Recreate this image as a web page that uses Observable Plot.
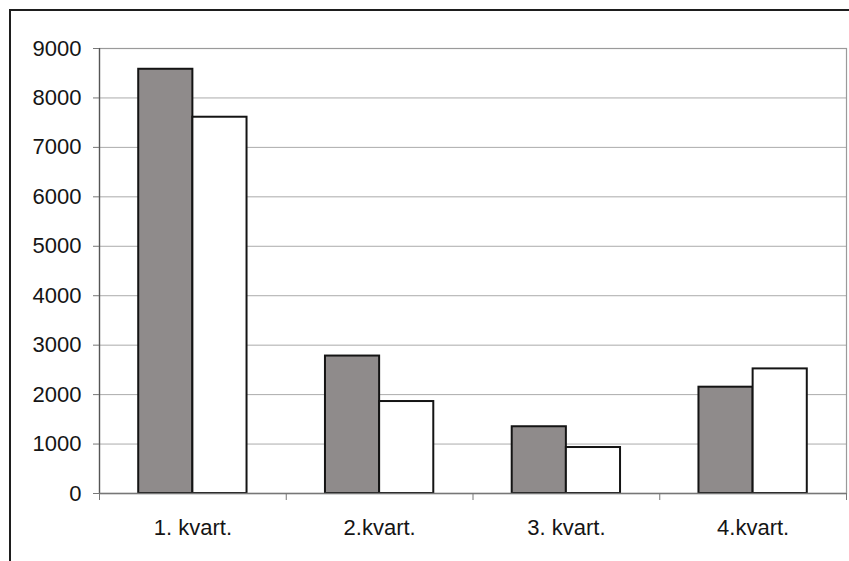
<!DOCTYPE html>
<html>
<head>
<meta charset="utf-8">
<script src="https://cdn.jsdelivr.net/npm/d3@7"></script>
<script src="https://cdn.jsdelivr.net/npm/@observablehq/plot@0.6"></script>
<style>
  html, body { margin: 0; padding: 0; background: #fff; }
  #wrap { position: relative; width: 849px; height: 561px; overflow: hidden; }
  #border {
    position: absolute; left: 9px; top: 9px; width: 900px; height: 600px;
    border-top: 2px solid #1e1e1e; border-left: 2px solid #1e1e1e;
    pointer-events: none;
  }
</style>
</head>
<body>
<div id="wrap"><div id="border"></div></div>
<script>
// Quarterly values, two series per quarter
const categories = ["1. kvart.", "2.kvart.", "3. kvart.", "4.kvart."];
const seriesA = [8580, 2780, 1350, 2150];
const seriesB = [7610, 1860, 930, 2520];
const yTicks = [0, 1000, 2000, 3000, 4000, 5000, 6000, 7000, 8000, 9000];

// Each quarter occupies one unit on the x scale; the pair of bars sits in the middle.
const groupStart = 0.21, groupMid = 0.5, groupEnd = 0.79;

const rowsA = categories.map((c, i) => ({i, value: seriesA[i]}));
const rowsB = categories.map((c, i) => ({i, value: seriesB[i]}));
const bounds = d3.range(categories.length + 1);
const centers = categories.map((c, i) => i + 0.5);

const font = "'Liberation Sans', Arial, sans-serif";

const chart = Plot.plot({
  width: 849,
  height: 561,
  marginLeft: 99,
  marginRight: 3,
  marginTop: 48,
  marginBottom: 68,
  style: {fontFamily: font, fontSize: "22px", color: "#151515", background: "transparent"},
  x: {type: "linear", domain: [0, categories.length]},
  y: {domain: [0, 9000]},
  marks: [
    Plot.ruleY(yTicks.filter(v => v > 0), {stroke: "#ababab", strokeWidth: 1}),
    Plot.frame({stroke: "#9a9a9a", strokeWidth: 1.2}),
    Plot.rect(rowsA, {x1: d => d.i + groupStart, x2: d => d.i + groupMid, y1: 0, y2: "value",
      fill: "#8f8b8b", stroke: "#141414", strokeWidth: 2}),
    Plot.rect(rowsB, {x1: d => d.i + groupMid, x2: d => d.i + groupEnd, y1: 0, y2: "value",
      fill: "#ffffff", stroke: "#141414", strokeWidth: 2}),
    Plot.ruleX([0], {stroke: "#555", strokeWidth: 1.3}),
    Plot.ruleY([0], {stroke: "#777", strokeWidth: 1.3}),
    Plot.axisY({ticks: yTicks, tickSize: 6, tickPadding: 12, stroke: "#777",
      tickFormat: d => String(d), label: null, fontSize: 22}),
    Plot.axisX({ticks: bounds, tickSize: 7, tickFormat: () => "", stroke: "#777", label: null}),
    Plot.axisX({ticks: centers, tickSize: 0, tickPadding: 26,
      tickFormat: (d, i) => categories[i], label: null, fontSize: 22})
  ]
});

document.getElementById("wrap").insertBefore(chart, document.getElementById("border"));
</script>
</body>
</html>
